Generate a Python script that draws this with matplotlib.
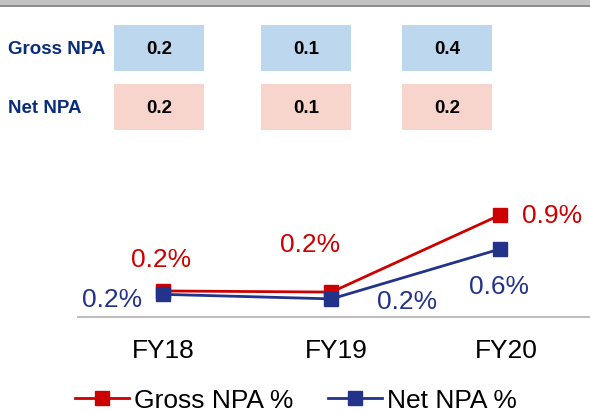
import matplotlib.pyplot as plt
import matplotlib.transforms as mtransforms
from matplotlib.patches import Rectangle

# data
years = ['FY18', 'FY19', 'FY20']
gross_npa_pct = [0.23, 0.22, 0.90]
net_npa_pct = [0.20, 0.16, 0.60]
gross_npa_amt = ['0.2', '0.1', '0.4']
net_npa_amt = ['0.2', '0.1', '0.2']

RED = '#CC0000'
NAVY = '#23338A'
LABEL_NAVY = '#0A2D7A'

plt.rcParams['font.family'] = ['Liberation Sans', 'DejaVu Sans']

W, H = 590, 414
fig = plt.figure(figsize=(W / 100, H / 100), dpi=100)

# overlay in pixel coords for header bar and table
bg = fig.add_axes([0, 0, 1, 1])
bg.set_xlim(0, W)
bg.set_ylim(H, 0)
bg.axis('off')
bg.add_patch(Rectangle((0, 0), W, 6, color='#C3C3C3', lw=0))
bg.add_patch(Rectangle((0, 6), W, 2, color='#8E8E8E', lw=0))

col_x = [114, 261, 402]
cell_w = 90
rows = [('Gross NPA', gross_npa_amt, '#BDD7EE', 26),
        ('Net NPA', net_npa_amt, '#F8D5CC', 85)]
for name, vals, col, top in rows:
    bg.text(8, top + 24, name, color=LABEL_NAVY, fontsize=13.5,
            fontweight='bold', va='center', ha='left')
    for x0, v in zip(col_x, vals):
        bg.add_patch(Rectangle((x0, top), cell_w, 46, color=col, lw=0))
        bg.text(x0 + cell_w / 2, top + 24, v, fontsize=13.5,
                fontweight='bold', ha='center', va='center', color='black')

# line chart
ax = fig.add_axes([78 / W, (H - 318) / H, 512 / W, 128 / H])
xs = range(len(years))
ax.plot(xs, gross_npa_pct, color=RED, lw=2, marker='s', ms=10,
        label='Gross NPA %')
ax.plot(xs, net_npa_pct, color=NAVY, lw=2, marker='s', ms=10,
        label='Net NPA %')
ax.set_xlim(-0.504, 2.534)
ax.set_ylim(0, 1.13)
ax.set_yticks([])
ax.set_xticks(list(xs))
ax.set_xticklabels(years, fontsize=19)
ax.tick_params(axis='x', length=0, pad=15)
# category labels sit a little right of the markers in the original
for lbl, shift in zip(ax.get_xticklabels(), [0, 5, 6]):
    off = mtransforms.ScaledTranslation(shift / 100, 0, fig.dpi_scale_trans)
    lbl.set_transform(lbl.get_transform() + off)
for s in ['top', 'right', 'left']:
    ax.spines[s].set_visible(False)
ax.spines['bottom'].set_color('#BFBFBF')
ax.spines['bottom'].set_linewidth(1.5)

fs = 19
# gross labels (offsets in pixels from the point)
g_off = [(-2, 32), (-21, 48), (52, 0)]
for i, (v, (dx, dy)) in enumerate(zip(gross_npa_pct, g_off)):
    ax.annotate(f'{v:.1f}%', (i, v), xytext=(dx, dy), textcoords='offset pixels',
                ha='center', va='center', color=RED, fontsize=fs)
# net labels
n_off = [(-51, -5), (76, -2), (-1, -37)]
for i, (v, (dx, dy)) in enumerate(zip(net_npa_pct, n_off)):
    ax.annotate(f'{v:.1f}%', (i, v), xytext=(dx, dy), textcoords='offset pixels',
                ha='center', va='center', color=NAVY, fontsize=fs)

fig.legend(loc='center', bbox_to_anchor=(296 / W, 1 - 401 / H), ncol=2,
           frameon=False, fontsize=19, handlelength=2.05, columnspacing=1.3,
           handletextpad=0.2)

fig.savefig('out.png', dpi=100)
